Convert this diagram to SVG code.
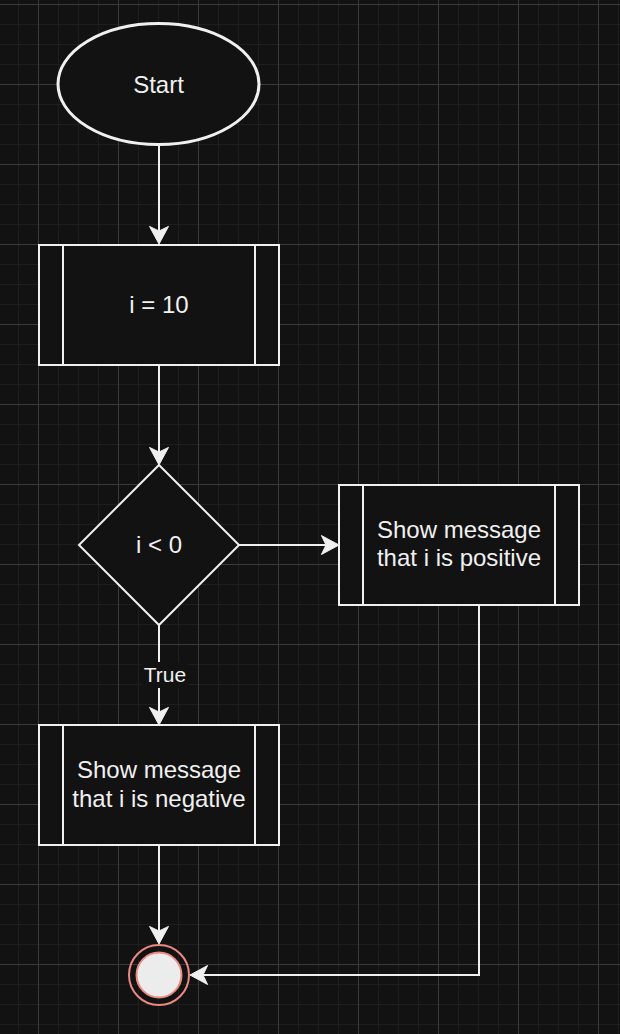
<svg xmlns="http://www.w3.org/2000/svg" width="620" height="1034" viewBox="0 0 620 1034">
  <style>
    .node { fill: #121212; stroke: #f0f0f0; stroke-width: 2; }
    .inner { stroke: #f0f0f0; stroke-width: 2; fill: none; }
    .label { font-family: "Liberation Sans", Arial, Helvetica, sans-serif; font-size: 24px; fill: #f0f0f0; text-anchor: middle; }
    .edge { fill: none; stroke: #f0f0f0; stroke-width: 2; }
  </style>
  <defs>
    <pattern id="grid" x="38" y="4" width="80" height="80" patternUnits="userSpaceOnUse">
      <rect x="20" y="0" width="1" height="80" fill="#1e1e1e"/>
      <rect x="40" y="0" width="1" height="80" fill="#1e1e1e"/>
      <rect x="60" y="0" width="1" height="80" fill="#1e1e1e"/>
      <rect x="0" y="20" width="80" height="1" fill="#1e1e1e"/>
      <rect x="0" y="40" width="80" height="1" fill="#1e1e1e"/>
      <rect x="0" y="60" width="80" height="1" fill="#1e1e1e"/>
      <rect x="0" y="0" width="1" height="80" fill="#3a3a3a"/>
      <rect x="0" y="0" width="80" height="1" fill="#3a3a3a"/>
    </pattern>
    <marker id="arrow" viewBox="-6 -11 21 22" refX="0" refY="0" markerWidth="21" markerHeight="22" markerUnits="userSpaceOnUse" orient="auto" overflow="visible">
      <path d="M13,0 L-4.6,-9.5 L0,0 L-4.6,9.5 Z" fill="#f0f0f0" stroke="#f0f0f0" stroke-width="1" stroke-linejoin="miter"/>
    </marker>
  </defs>

  <rect x="0" y="0" width="620" height="1034" fill="#121212"/>
  <rect x="0" y="0" width="620" height="1034" fill="url(#grid)"/>

  <g id="connectors">
    <path class="edge" d="M159,146 L159,231" marker-end="url(#arrow)"/>
    <path class="edge" d="M159,365 L159,452" marker-end="url(#arrow)"/>
    <path class="edge" d="M239,545 L326,545" marker-end="url(#arrow)"/>
    <path class="edge" d="M159,625 L159,712" marker-end="url(#arrow)"/>
    <rect x="142" y="662" width="46" height="26" fill="#121212"/>
    <text x="165" y="681.7" class="label" style="font-size:21px">True</text>
    <path class="edge" d="M159,845 L159,931" marker-end="url(#arrow)"/>
    <path class="edge" d="M479,605 L479,975 L203,975" marker-end="url(#arrow)"/>
  </g>

  <g id="start">
    <ellipse cx="158.5" cy="84" rx="100.5" ry="60.5" class="node" style="stroke-width:3"/>
    <text x="158.5" y="93.3" class="label">Start</text>
  </g>

  <g id="init">
    <rect x="39" y="245" width="240" height="120" class="node"/>
    <line x1="63" y1="245" x2="63" y2="365" class="inner"/>
    <line x1="255" y1="245" x2="255" y2="365" class="inner"/>
    <text x="159" y="313.3" class="label">i = 10</text>
  </g>

  <g id="decision">
    <polygon points="159,465 239,545 159,625 79,545" class="node"/>
    <text x="159" y="553.3" class="label">i &lt; 0</text>
  </g>

  <g id="positive">
    <rect x="339" y="485" width="240" height="120" class="node"/>
    <line x1="363" y1="485" x2="363" y2="605" class="inner"/>
    <line x1="555" y1="485" x2="555" y2="605" class="inner"/>
    <text x="459" y="537.5" class="label">Show message</text>
    <text x="459" y="566.3" class="label">that i is positive</text>
  </g>

  <g id="negative">
    <rect x="39" y="725" width="240" height="120" class="node"/>
    <line x1="63" y1="725" x2="63" y2="845" class="inner"/>
    <line x1="255" y1="725" x2="255" y2="845" class="inner"/>
    <text x="159" y="778.3" class="label">Show message</text>
    <text x="159" y="807.3" class="label">that i is negative</text>
  </g>

  <g id="end">
    <circle cx="159" cy="975" r="30" fill="none" stroke="#ea8a80" stroke-width="2"/>
    <circle cx="159" cy="975" r="22.5" fill="#ececec" stroke="#ea8a80" stroke-width="2"/>
  </g>
</svg>
